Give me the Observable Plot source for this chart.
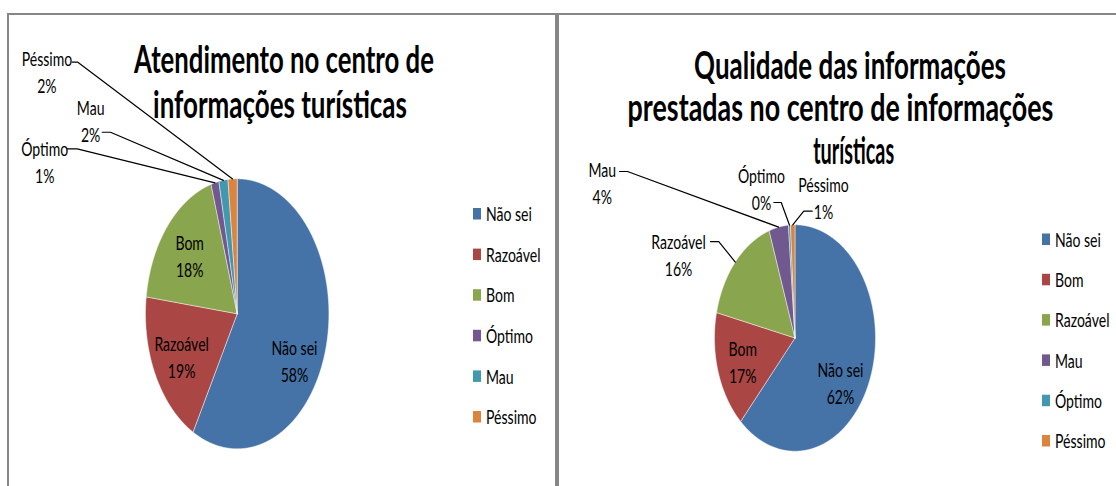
<!DOCTYPE html>
<html><head><meta charset="utf-8">
<script src="https://cdn.jsdelivr.net/npm/d3@7"></script>
<script src="https://cdn.jsdelivr.net/npm/@observablehq/plot@0.6"></script>
<style>
html,body{margin:0;padding:0;background:#fff;}
#page{position:relative;width:1116px;height:486px;overflow:hidden;background:#fff;}
.frame{position:absolute;box-sizing:border-box;border:2px solid #868686;border-bottom:none;}
.plotbox{position:absolute;top:0;}
#overlay{position:absolute;left:0;top:0;pointer-events:none;}
</style></head><body><div id="page"></div>
<script>
// ---------- data ----------
const leftTitle = ["Atendimento no centro de", "informações turísticas"];
const leftCategories = ["Não sei", "Razoável", "Bom", "Óptimo", "Mau", "Péssimo"];
const leftValues = [58.0, 19.0, 18.4, 1.4, 1.6, 1.6];

const rightTitle = ["Qualidade das informações", "prestadas no centro de informações", "turísticas"];
const rightCategories = ["Não sei", "Bom", "Razoável", "Mau", "Óptimo", "Péssimo"];
const rightValues = [61.8, 16.8, 16.2, 3.9, 0.4, 0.9];

const sliceColors = ["#4572A7", "#AA4643", "#89A54E", "#71588F", "#4198AF", "#DB843D"];

// ---------- layout ----------
const FONT = "Lato, 'Open Sans', sans-serif";
const labelSize = 20;
const titleSize = 38;
const panels = [
  {
    left: 0, width: 556,
    categories: leftCategories, values: leftValues, title: leftTitle,
    pie: {cx: 236.7, cy: 313.3, rx: 91.7, ry: 135},
    titleLines: [{cx: 284, base: 73, w: 300}, {cx: 280, base: 117.5, w: 254}],
    legend: {x: 473, textX: 486, y0: 214, step: 40.6},
    inside: {"Não sei": [-0.034, -0.171], "Razoável": [0, 0], "Bom": [0, 0]},
    callouts: {
      "Óptimo": {at: [-2.099, 1.133], stub: [[-1.854, 1.222], [-1.745, 1.222]]},
      "Mau": {at: [-1.598, 1.440], stub: [[-1.472, 1.345], [-1.382, 1.345]]},
      "Péssimo": {at: [-2.075, 1.796], stub: [[-1.799, 1.864], [-1.738, 1.864]]}
    }
  },
  {
    left: 556, width: 560,
    categories: rightCategories, values: rightValues, title: rightTitle,
    pie: {cx: 794.5, cy: 337.5, rx: 80.5, ry: 113.2},
    titleLines: [{cx: 850, base: 78.5, w: 312}, {cx: 840.5, base: 121, w: 426}, {cx: 853.7, base: 163.5, w: 81}],
    legend: {x: 1042, textX: 1055, y0: 239.5, step: 40.3},
    inside: {"Não sei": [-0.069, -0.144], "Bom": [0, 0]},
    callouts: {
      "Razoável": {at: [-1.447, 0.744], stub: [[-1.050, 0.852], [-0.947, 0.852]]},
      "Mau": {at: [-2.395, 1.376], stub: [[-2.180, 1.471], [-2.081, 1.471]]},
      "Óptimo": {at: [-0.416, 1.330], stub: [[-0.263, 1.197], [-0.171, 1.197]]},
      "Péssimo": {at: [0.354, 1.244], stub: [[0.214, 1.120], [0.109, 1.120]]}
    }
  }
];

const page = document.getElementById("page");

// frames
function frame(l, t, w, h, noRight) {
  const d = document.createElement("div");
  d.className = "frame";
  Object.assign(d.style, {left: l + "px", top: t + "px", width: w + "px", height: h + "px"});
  if (noRight) d.style.borderRight = "none";
  page.appendChild(d);
}
frame(7, 12.5, 550, 480, false);
frame(557, 12.5, 600, 480, true);

// label compression factor (narrow Calibri look)
const ctx = document.createElement("canvas").getContext("2d");
ctx.font = `${labelSize}px Lato`;
const kLabel = 54.5 / ctx.measureText("Razoável").width;

panels.forEach(p => {
  const arcs = d3.pie().sort(null).value(d => d)(p.values);
  const pts = [];
  arcs.forEach((a, i) => {
    const name = p.categories[i];
    pts.push({name, x: 0, y: 0});
    const n = Math.max(2, Math.ceil((a.endAngle - a.startAngle) / (Math.PI / 360)));
    for (let j = 0; j <= n; j++) {
      const t = a.startAngle + (a.endAngle - a.startAngle) * j / n;
      pts.push({name, x: Math.sin(t), y: Math.cos(t)});
    }
    pts.push({name, x: 0, y: 0});
  });

  const labels = [];
  const leaders = [];
  arcs.forEach((a, i) => {
    const name = p.categories[i];
    const mid = (a.startAngle + a.endAngle) / 2;
    const text = `${name}\n${Math.round(p.values[i])}%`;
    if (p.inside[name]) {
      const [nx, ny] = p.inside[name];
      labels.push({text, x: 0.68 * Math.sin(mid) + nx, y: 0.68 * Math.cos(mid) + ny});
    } else if (p.callouts[name]) {
      const c = p.callouts[name];
      labels.push({text, x: c.at[0], y: c.at[1]});
      leaders.push({name, x: c.stub[0][0], y: c.stub[0][1]});
      leaders.push({name, x: c.stub[1][0], y: c.stub[1][1]});
      leaders.push({name, x: Math.sin(mid), y: Math.cos(mid)});
    }
  });

  const cxl = p.pie.cx - p.left;
  const svg = Plot.plot({
    width: p.width, height: 486, margin: 0,
    x: {domain: [-1, 1], range: [cxl - p.pie.rx, cxl + p.pie.rx], axis: null},
    y: {domain: [-1, 1], range: [p.pie.cy + p.pie.ry, p.pie.cy - p.pie.ry], axis: null},
    color: {domain: p.categories, range: sliceColors},
    style: {background: "transparent", overflow: "visible", fontFamily: FONT, fontSize: labelSize + "px", color: "#000"},
    marks: [
      Plot.line(pts, {x: "x", y: "y", z: "name", fill: "name", stroke: "#ffffff", strokeWidth: 0.5, strokeOpacity: 0.9}),
      Plot.line(leaders, {x: "x", y: "y", z: "name", stroke: "#000", strokeWidth: 1.2}),
      Plot.text(labels, {x: "x", y: "y", text: "text", fill: "#000", fontSize: labelSize, lineHeight: 1.35})
    ]
  });
  svg.querySelectorAll("text").forEach(t => {
    const tr = t.getAttribute("transform");
    if (tr) t.setAttribute("transform", tr + ` scale(${kLabel},1)`);
  });
  const box = document.createElement("div");
  box.className = "plotbox";
  box.style.left = p.left + "px";
  box.style.width = p.width + "px";
  box.appendChild(svg);
  page.appendChild(box);
});

// overlay: titles and legends
const ov = d3.select(page).append("svg").attr("id", "overlay").attr("width", 1116).attr("height", 486);
panels.forEach(p => {
  p.title.forEach((line, i) => {
    const L = p.titleLines[i];
    const t = ov.append("text").text(line)
      .attr("font-family", FONT).attr("font-weight", "bold").attr("font-size", titleSize)
      .attr("text-anchor", "middle").attr("fill", "#000");
    const len = t.node().getComputedTextLength();
    t.attr("transform", `translate(${L.cx},${L.base}) scale(${L.w / len},1)`);
  });
  p.categories.forEach((c, i) => {
    const y = p.legend.y0 + i * p.legend.step;
    ov.append("rect").attr("x", p.legend.x).attr("y", y - 6).attr("width", 8).attr("height", 11.5)
      .attr("fill", sliceColors[i]);
    ov.append("text").text(c)
      .attr("font-family", FONT).attr("font-size", labelSize).attr("fill", "#000")
      .attr("transform", `translate(${p.legend.textX},${y + 0.36 * labelSize}) scale(${kLabel},1)`);
  });
});
</script>
</body></html>
